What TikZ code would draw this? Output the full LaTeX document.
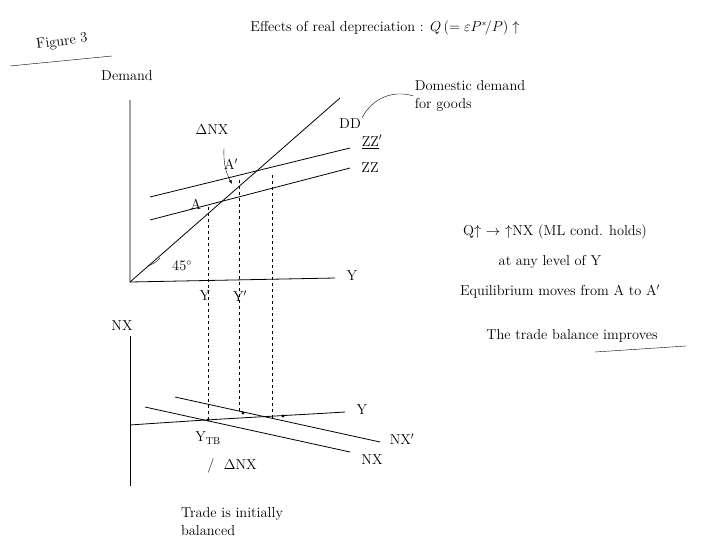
\documentclass[tikz,border=0pt]{standalone}
\usepackage{tikz}
\usetikzlibrary{arrows.meta}
\usetikzlibrary{positioning}
\begin{document}
\begin{tikzpicture}[x=1pt,y=-1pt]
	\tikzset{axis/.style = {thick}}
	\tikzset{curve/.style = {thick}}
	\tikzset{guide/.style = {dashed, thin}}
	\tikzset{lbl/.style = {font=\Large, inner sep=1pt}}
	\tikzset{dot/.style = {circle, fill, inner sep=1.2pt}}
	\useasboundingbox (0,0) rectangle (703,551);

	% titles
	\node[lbl, rotate=8] (fig) at (62,42) {Figure 3};
	\coordinate (ulA) at (10,66);
	\coordinate (ulB) at (112,56);
	\draw (ulA) -- (ulB);
	\node[lbl] (title) at (385,28) {Effects of real depreciation : $Q\,(=\varepsilon P^*\!/P)\uparrow$};
	\node[lbl] (dem) at (127,76) {Demand};

	% upper axes
	\coordinate (o) at (130,282);
	\coordinate (top) at (130,100);
	\coordinate (xend) at (335,278);
	\draw[axis] (top) -- (o) -- (xend);
	\node[lbl] (yax) at (352,276) {Y};

	% curves
	\coordinate (dd1) at (340,98);
	\coordinate (zzp0) at (150,197);
	\coordinate (zzp1) at (350,148);
	\coordinate (zz0) at (150,220);
	\coordinate (zz1) at (350,168);
	\draw[curve] (o) -- (dd1);
	\draw[curve] (zzp0) -- (zzp1);
	\draw[curve] (zz0) -- (zz1);
	\node[lbl] (ddl) at (350,124) {DD};
	\node[lbl] (zzpl) at (372,142) {$\underline{\mathrm{ZZ}}'$};
	\node[lbl] (zzl) at (370,168) {ZZ};
	\node[lbl, align=left] (domd) at (470,96) {Domestic demand\\for goods};
	\draw (ddl.north east) to[bend left=40] (domd.west);

	% equilibria
	\node[lbl] (a) at (196,204) {A};
	\node[lbl] (ap) at (231,164) {A$'$};
	\node[lbl] (dnx) at (212,130) {$\Delta$NX};
	\coordinate (br0) at (224,148);
	\coordinate (br1) at (232,184);
	\draw[-{Latex[length=4pt]}] (br0) to[bend right=15] (br1);
	\node[lbl] (deg) at (182,266) {45$^\circ$};
	\draw (160,258) arc (40:75:25);

	% dashed guides
	\foreach \x/\y/\z in {208/207/421, 239/180/413, 272/175/418}
		\draw[guide] (\x,\y) -- (\x,\z);
	\node[lbl] (y0) at (205,296) {Y};
	\node[lbl] (y1) at (240,296) {Y$'$};

	% lower panel
	\node[lbl] (nxax) at (122,326) {NX};
	\coordinate (lt) at (130,336);
	\coordinate (lb) at (130,486);
	\draw[axis] (lt) -- (lb);
	\coordinate (h0) at (130,425);
	\coordinate (h1) at (345,412);
	\draw[axis] (h0) .. controls (230,418) and (280,416) .. (h1);
	\node[lbl] (ylow) at (362,410) {Y};
	\coordinate (nxp0) at (175,397);
	\coordinate (nxp1) at (380,442);
	\coordinate (nx0) at (145,407);
	\coordinate (nx1) at (350,452);
	\draw[curve] (nxp0) -- (nxp1);
	\draw[curve] (nx0) -- (nx1);
	\node[lbl] (nxpl) at (402,439) {NX$'$};
	\node[lbl] (nxl) at (372,460) {NX};
	\node[dot] (p0) at (208,420) {};
	\node[dot] (p1) at (243,413) {};
	\node[dot] (p2) at (283,416) {};
	\node[lbl] (ytb) at (208,438) {Y$_{\mathrm{TB}}$};
	\node[lbl] (dnx2) at (232,466) {/\ \ $\Delta$NX};
	\node[lbl, align=left] (trade) at (232,522) {Trade is initially\\balanced};

	% notes
	\node[lbl] (n1) at (555,232) {Q$\uparrow\ \to\ \uparrow$NX (ML cond. holds)};
	\node[lbl] (n2) at (550,262) {at any level of Y};
	\node[lbl] (n3) at (560,292) {Equilibrium moves from A to A$'$};
	\node[lbl] (n4) at (572,336) {The trade balance improves};
	\coordinate (ul0) at (595,352);
	\coordinate (ul1) at (686,346);
	\draw (ul0) -- (ul1);
\end{tikzpicture}
\end{document}
